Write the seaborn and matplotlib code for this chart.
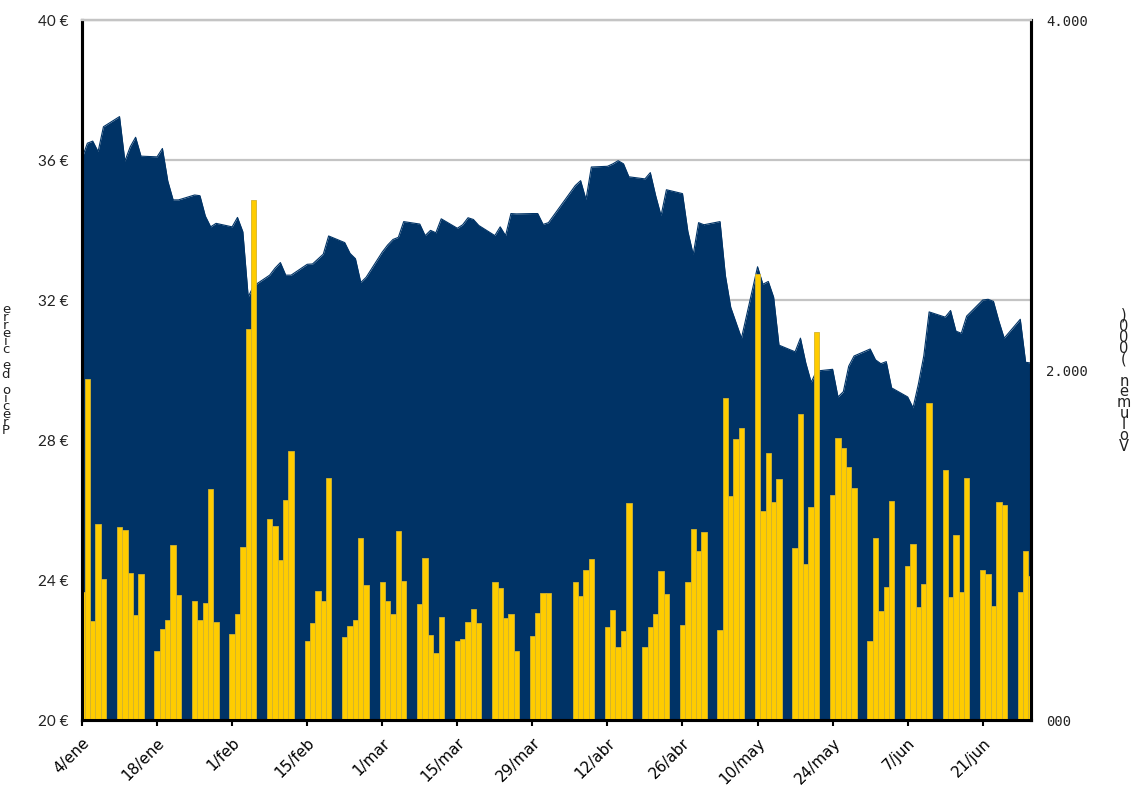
import matplotlib
matplotlib.use("Agg")
import matplotlib.pyplot as plt
import pandas as pd
import seaborn as sns

# trading days, Spanish market 2010 (closed Good Friday and Easter Monday)
dates = pd.bdate_range("2010-01-04", "2010-06-30")
dates = dates[~dates.isin(pd.to_datetime(["2010-04-02", "2010-04-05"]))]

# closing price (EUR), one value per trading day
price = [
    36.05, 36.48, 36.54, 36.24, 36.95,
    37.24, 35.97, 36.38, 36.65, 36.11,
    36.09, 36.33, 35.40, 34.86, 34.86,
    35.00, 34.98, 34.40, 34.09, 34.19,
    34.09, 34.36, 33.95, 32.09, 32.40,
    32.71, 32.91, 33.07, 32.71, 32.71,
    33.02, 33.03, 33.17, 33.31, 33.83,
    33.64, 33.33, 33.18, 32.50, 32.65,
    33.37, 33.57, 33.73, 33.79, 34.24,
    34.17, 33.84, 33.99, 33.92, 34.32,
    34.05, 34.15, 34.35, 34.30, 34.13,
    33.84, 34.09, 33.84, 34.47, 34.46,
    34.47, 34.47, 34.16, 34.21,
    35.27, 35.41, 34.87, 35.80,
    35.82, 35.89, 35.98, 35.89, 35.52,
    35.46, 35.64, 34.98, 34.41, 35.15,
    35.04, 33.96, 33.30, 34.21, 34.15,
    34.24, 32.70, 31.79, 31.35, 30.91,
    32.95, 32.45, 32.53, 32.08, 30.71,
    30.52, 30.91, 30.20, 29.65, 29.97,
    30.02, 29.23, 29.38, 30.11, 30.40,
    30.60, 30.29, 30.18, 30.24, 29.49,
    29.23, 28.92, 29.60, 30.40, 31.66,
    31.51, 31.70, 31.11, 31.05, 31.54,
    32.00, 32.02, 31.96, 31.40, 30.91,
    31.45, 30.22, 30.20,
]

# traded volume (thousands of shares)
volume = [
    730, 1949, 564, 1122, 803,
    1102, 1083, 840, 598, 833,
    395, 518, 569, 999, 714,
    678, 571, 667, 1320, 559,
    491, 605, 988, 2234, 2974,
    1147, 1111, 917, 1259, 1539,
    452, 555, 737, 682, 1384,
    473, 537, 571, 1042, 771,
    787, 678, 605, 1079, 794,
    662, 924, 487, 382, 587,
    452, 462, 559, 635, 553,
    787, 753, 582, 605, 393,
    480, 612, 723, 723,
    787, 708, 856, 919,
    532, 628, 416, 509, 1238,
    416, 532, 605, 851, 719,
    541, 787, 1090, 965, 1077,
    514, 1842, 1282, 1603, 1669,
    2546, 1197, 1523, 1243, 1375,
    985, 1751, 894, 1220, 2216,
    1288, 1612, 1555, 1443, 1323,
    452, 1042, 623, 760, 1254,
    878, 1008, 644, 780, 1812,
    1430, 701, 1056, 730, 1384,
    856, 833, 651, 1247, 1231,
    730, 965, 821,
]

tick_dates = pd.date_range("2010-01-04", periods=13, freq="14D")
tick_labels = ["4/ene", "18/ene", "1/feb", "15/feb", "1/mar", "15/mar", "29/mar",
               "12/abr", "26/abr", "10/may", "24/may", "7/jun", "21/jun"]
price_ticks = [20, 24, 28, 32, 36, 40]
price_labels = ["20 €", "24 €", "28 €", "32 €", "36 €", "40 €"]
vol_ticks = [0, 2000, 4000]
vol_labels = ["000", "2.000", "4.000"]

NAVY = "#003366"
GOLD = "#FFCC00"

df = pd.DataFrame({"fecha": dates, "precio": price, "volumen": volume})

sns.set_theme(style="white")
plt.rcParams["font.family"] = ["DejaVu Sans"]

W, H = 1135, 785
fig = plt.figure(figsize=(W / 100, H / 100), dpi=100)
ax = fig.add_axes([82 / W, 65 / H, 949 / W, 700 / H])
ax2 = ax.twinx()

# price area
ax.fill_between(df["fecha"], 20, df["precio"], color=NAVY, lw=0, zorder=2)
sns.lineplot(data=df, x="fecha", y="precio", ax=ax, color=NAVY, lw=0.8, zorder=3)
ax.set_axisbelow(True)
ax.yaxis.grid(True, color="#c4c4c4", lw=1.6)
ax.xaxis.grid(False)

# volume bars
ax2.bar(df["fecha"], df["volumen"], width=1.0, color=GOLD,
        edgecolor="#d2b330", linewidth=0.6, zorder=2)

ax.set_xlim(dates[0], dates[-1])
ax.set_ylim(20, 40)
ax2.set_ylim(0, 4000)

ax.set_xticks(tick_dates)
ax.set_xticklabels(tick_labels, rotation=45, ha="right", rotation_mode="anchor",
                   fontsize=11, color="black")
ax.set_yticks(price_ticks)
ax.set_yticklabels(price_labels, fontsize=11, family="Lato", color="#222222")
ax2.set_yticks(vol_ticks)
ax2.set_yticklabels(vol_labels, fontsize=10, family="DejaVu Sans Mono", color="#222222")
ax.tick_params(axis="x", length=4, width=1.5, direction="out", color="black", pad=7, bottom=True)
ax.tick_params(axis="y", length=0, pad=10)
ax2.tick_params(axis="y", length=0, pad=11)
ax.set_xlabel("")
ax.set_ylabel("")
ax2.set_ylabel("")

for a in (ax, ax2):
    for side in ("left", "right", "bottom"):
        a.spines[side].set_color("black")
        a.spines[side].set_linewidth(2.2)
    a.spines["top"].set_color("#c4c4c4")
    a.spines["top"].set_linewidth(1.6)
    a.spines["top"].set_visible(True)

# axis titles: upright letters stacked bottom-to-top, as in the source image
fig.text(6 / W, 1 - 370 / H, "\n".join(reversed("Precio de cierre")),
         ha="center", va="center", fontsize=9.5, linespacing=0.51, color="#222222")
fig.text(1124 / W, 1 - 381 / H, "\n".join(reversed("Volumen (000)")),
         ha="center", va="center", fontsize=10.5, linespacing=0.66, color="#222222")

fig.savefig("out.png", dpi=100)
